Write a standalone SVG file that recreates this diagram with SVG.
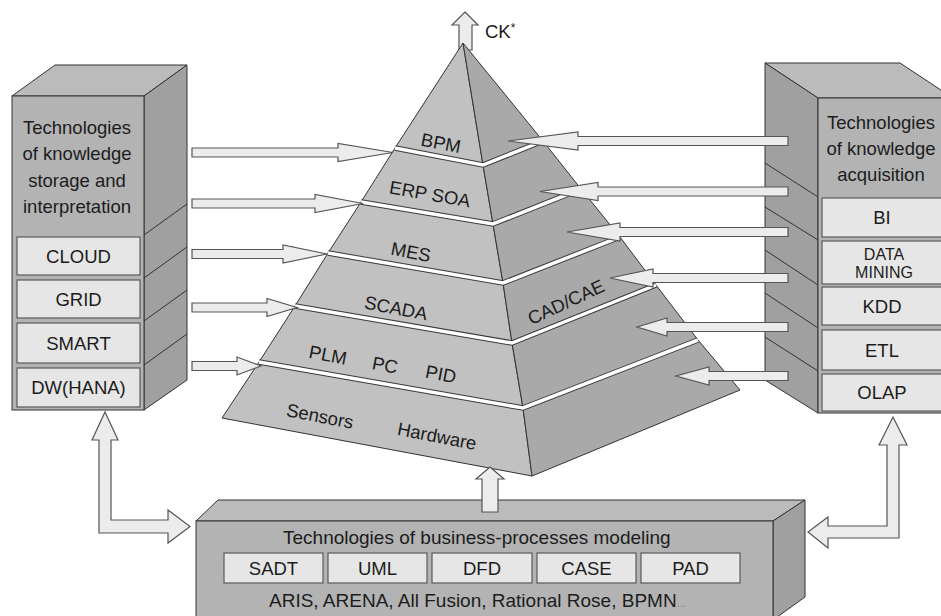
<svg xmlns="http://www.w3.org/2000/svg" width="941" height="616" viewBox="0 0 941 616">
  <style>
    text { font-family: "Liberation Sans", Arial, sans-serif; fill: #1c1c1c; font-size: 18.5px; }
    .mid { text-anchor: middle; }
    .front { fill: #b3b3b3; stroke: #333; stroke-width: 1; }
    .side { fill: #a0a0a0; stroke: #333; stroke-width: 1; }
    .top { fill: #bbbbbb; stroke: #333; stroke-width: 1; }
    .cell { fill: #e6e6e6; stroke: #5a5a5a; stroke-width: 1.2; }
    .shelf { fill: none; stroke: #333; stroke-width: 1; }
    .lf { fill: #c1c1c1; stroke: #333; stroke-width: 1; stroke-linejoin: round; }
    .rf { fill: #a9a9a9; stroke: #333; stroke-width: 1; stroke-linejoin: round; }
    .gapd { fill: none; stroke: #3a3a3a; stroke-width: 5.5; }
    .gapw { fill: none; stroke: #ffffff; stroke-width: 3.5; }
    .arr { fill: #ececec; stroke: #555; stroke-width: 1.2; }
  </style>

  <rect width="941" height="616" fill="#ffffff"/>

  <!-- left block: storage and interpretation -->
  <g id="storage">
    <polygon class="top" points="12,96 55,65 187,65 144,96"/>
    <polygon class="side" points="144,96 187,65 187,380 144,410"/>
    <rect class="front" x="12" y="96" width="132" height="314"/>
    <path class="shelf" d="M144,235 L187,204 M144,278 L187,247 M144,321 L187,290 M144,365 L187,334"/>
    <text class="mid" x="77" y="134">Technologies</text>
    <text class="mid" x="77" y="160">of knowledge</text>
    <text class="mid" x="77" y="187">storage and</text>
    <text class="mid" x="77" y="213">interpretation</text>
    <rect class="cell" x="17" y="237" width="123" height="38"/>
    <rect class="cell" x="17" y="280" width="123" height="38"/>
    <rect class="cell" x="17" y="323" width="123" height="40"/>
    <rect class="cell" x="17" y="368" width="123" height="39"/>
    <text class="mid" x="78.5" y="262.5">CLOUD</text>
    <text class="mid" x="78.5" y="305.5">GRID</text>
    <text class="mid" x="78.5" y="349.5">SMART</text>
    <text class="mid" x="78.5" y="394">DW(HANA)</text>
  </g>

  <!-- right block: knowledge acquisition -->
  <g id="acquisition">
    <polygon class="top" points="765,63 900,63 953,98 818,98"/>
    <polygon class="side" points="765,63 818,98 818,413 765,380"/>
    <rect class="front" x="818" y="98" width="140" height="315"/>
    <path class="shelf" d="M765,163 L818,197 M765,207 L818,240 M765,250 L818,285 M765,293 L818,328 M765,337 L818,371"/>
    <text class="mid" x="881" y="129">Technologies</text>
    <text class="mid" x="881" y="155">of knowledge</text>
    <text class="mid" x="881" y="181">acquisition</text>
    <rect class="cell" x="822" y="198" width="130" height="39"/>
    <rect class="cell" x="822" y="241" width="130" height="43"/>
    <rect class="cell" x="822" y="287" width="130" height="38"/>
    <rect class="cell" x="822" y="330" width="130" height="40"/>
    <rect class="cell" x="822" y="374" width="130" height="37"/>
    <text class="mid" x="882" y="224">BI</text>
    <text class="mid" x="884" y="259.5" style="font-size:16px">DATA</text>
    <text class="mid" x="884" y="278" style="font-size:16px">MINING</text>
    <text class="mid" x="882" y="312.5">KDD</text>
    <text class="mid" x="882" y="356.5">ETL</text>
    <text class="mid" x="882" y="399">OLAP</text>
  </g>

  <!-- CK* output arrow, behind the apex -->
  <g id="output">
    <polygon class="arr" points="465,12 478,25 472,25 472,50 459,50 459,25 452,25"/>
    <text x="485" y="38">CK<tspan style="font-size:12px" dy="-6">*</tspan></text>
  </g>

  <!-- stepped pyramid of control levels -->
  <g id="pyramid">
    <g id="level-bpm">
      <polygon class="lf" points="463,43 483,165 395,148"/>
      <polygon class="rf" points="463,43 543,141 483,165"/>
    </g>
    <g id="level-erp">
      <polygon class="lf" points="395,148 483,165 493,224 361,202"/>
      <polygon class="rf" points="483,165 543,141 581,189 493,224"/>
    </g>
    <g id="level-mes">
      <polygon class="lf" points="361,202 493,224 503,283 328,253"/>
      <polygon class="rf" points="493,224 581,189 620,237 503,283"/>
    </g>
    <g id="level-scada">
      <polygon class="lf" points="328,253 503,283 512,343 295,306"/>
      <polygon class="rf" points="503,283 620,237 656,285 512,343"/>
    </g>
    <g id="level-plm">
      <polygon class="lf" points="295,306 512,343 523,408 259,362"/>
      <polygon class="rf" points="512,343 656,285 698,340 523,408"/>
    </g>
    <g id="level-hardware">
      <polygon class="lf" points="259,362 523,408 532,476 222,418"/>
      <polygon class="rf" points="523,408 698,340 740,390 532,476"/>
    </g>
    <!-- white seams between levels -->
    <polyline class="gapd" points="395,148 483,165 543,141"/>
    <polyline class="gapw" points="395,148 483,165 543,141"/>
    <polyline class="gapd" points="361,202 493,224 581,189"/>
    <polyline class="gapw" points="361,202 493,224 581,189"/>
    <polyline class="gapd" points="328,253 503,283 620,237"/>
    <polyline class="gapw" points="328,253 503,283 620,237"/>
    <polyline class="gapd" points="295,306 512,343 656,285"/>
    <polyline class="gapw" points="295,306 512,343 656,285"/>
    <polyline class="gapd" points="259,362 523,408 698,340"/>
    <polyline class="gapw" points="259,362 523,408 698,340"/>

    <text class="mid" transform="translate(441,143) rotate(11)" y="6.5">BPM</text>
    <text class="mid" transform="translate(430,194) rotate(10)" y="6.5">ERP SOA</text>
    <text class="mid" transform="translate(411,252) rotate(11)" y="6.5">MES</text>
    <text class="mid" transform="translate(396,308) rotate(11)" y="6.5">SCADA</text>
    <text class="mid" transform="translate(566,302) rotate(-25)" y="6.5">CAD/CAE</text>
    <text class="mid" transform="translate(328,355) rotate(11)" y="6.5">PLM</text>
    <text class="mid" transform="translate(385,365) rotate(11)" y="6.5">PC</text>
    <text class="mid" transform="translate(441,374) rotate(11)" y="6.5">PID</text>
    <text class="mid" transform="translate(320,416) rotate(11)" y="6.5">Sensors</text>
    <text class="mid" transform="translate(437,436) rotate(11)" y="6.5">Hardware</text>
  </g>

  <!-- bottom block: business-process modeling -->
  <g id="modeling">
    <polygon class="top" points="196,521 218,500 805,500 773,521"/>
    <polygon class="side" points="773,521 805,500 805,597 773,620"/>
    <rect class="front" x="196" y="521" width="577" height="100"/>
    <text x="283" y="543.5" style="font-size:19px">Technologies of business-processes modeling</text>
    <rect class="cell" x="224" y="553" width="99" height="30"/>
    <rect class="cell" x="328" y="553" width="99" height="30"/>
    <rect class="cell" x="432" y="553" width="100" height="30"/>
    <rect class="cell" x="537" y="553" width="99" height="30"/>
    <rect class="cell" x="641" y="553" width="99" height="30"/>
    <text class="mid" x="273.5" y="575">SADT</text>
    <text class="mid" x="377.5" y="575">UML</text>
    <text class="mid" x="482" y="575">DFD</text>
    <text class="mid" x="586.5" y="575">CASE</text>
    <text class="mid" x="690.5" y="575">PAD</text>
    <text x="269" y="607" style="font-size:19px">ARIS, ARENA, All Fusion, Rational Rose, BPMN<tspan style="font-size:12px;fill:#8a8a8a">...</tspan></text>
  </g>

  <!-- connectors -->
  <g id="connectors">
    <!-- storage to pyramid levels -->
    <polygon class="arr" points="192,148 338,148 338,143.5 393,152.5 338,161.5 338,157 192,157"/>
    <polygon class="arr" points="192,199 315,199 315,194.5 363,203.5 315,212.5 315,208 192,208"/>
    <polygon class="arr" points="192,249.5 283,249.5 283,245 327,254 283,263 283,258.5 192,258.5"/>
    <polygon class="arr" points="192,303 267,303 267,298.5 297,307.5 267,316.5 267,312 192,312"/>
    <polygon class="arr" points="192,361.5 237,361.5 237,357 261,366 237,375 237,370.5 192,370.5"/>
    <!-- acquisition to pyramid levels -->
    <polygon class="arr" points="788,136.5 578,136.5 578,132 508,141 578,150 578,145.5 788,145.5"/>
    <polygon class="arr" points="788,187 598,187 598,182.5 540,191.5 598,200.5 598,196 788,196"/>
    <polygon class="arr" points="788,227.5 620,227.5 620,223 567,232 620,241 620,236.5 788,236.5"/>
    <polygon class="arr" points="788,273.5 653,273.5 653,269 610,278 653,287 653,282.5 788,282.5"/>
    <polygon class="arr" points="788,322.5 667,322.5 667,318 637,327 667,336 667,331.5 788,331.5"/>
    <polygon class="arr" points="788,371.5 709,371.5 709,367 676,376 709,385 709,380.5 788,380.5"/>
    <!-- two-way links between the modeling block and the side blocks -->
    <polygon class="arr" points="105,412 118,440 111,440 111,520 168,520 168,510 190,526.5 168,543 168,533 99,533 99,440 92,440"/>
    <polygon class="arr" points="893,417 907,445 899,445 899,538 828,538 828,548 808,532 828,517 828,526 887,526 887,445 879,445"/>
    <!-- modeling up into the pyramid base -->
    <polygon class="arr" points="490,467 504,479 498,479 498,512 482,512 482,479 476,479"/>
  </g>
</svg>
